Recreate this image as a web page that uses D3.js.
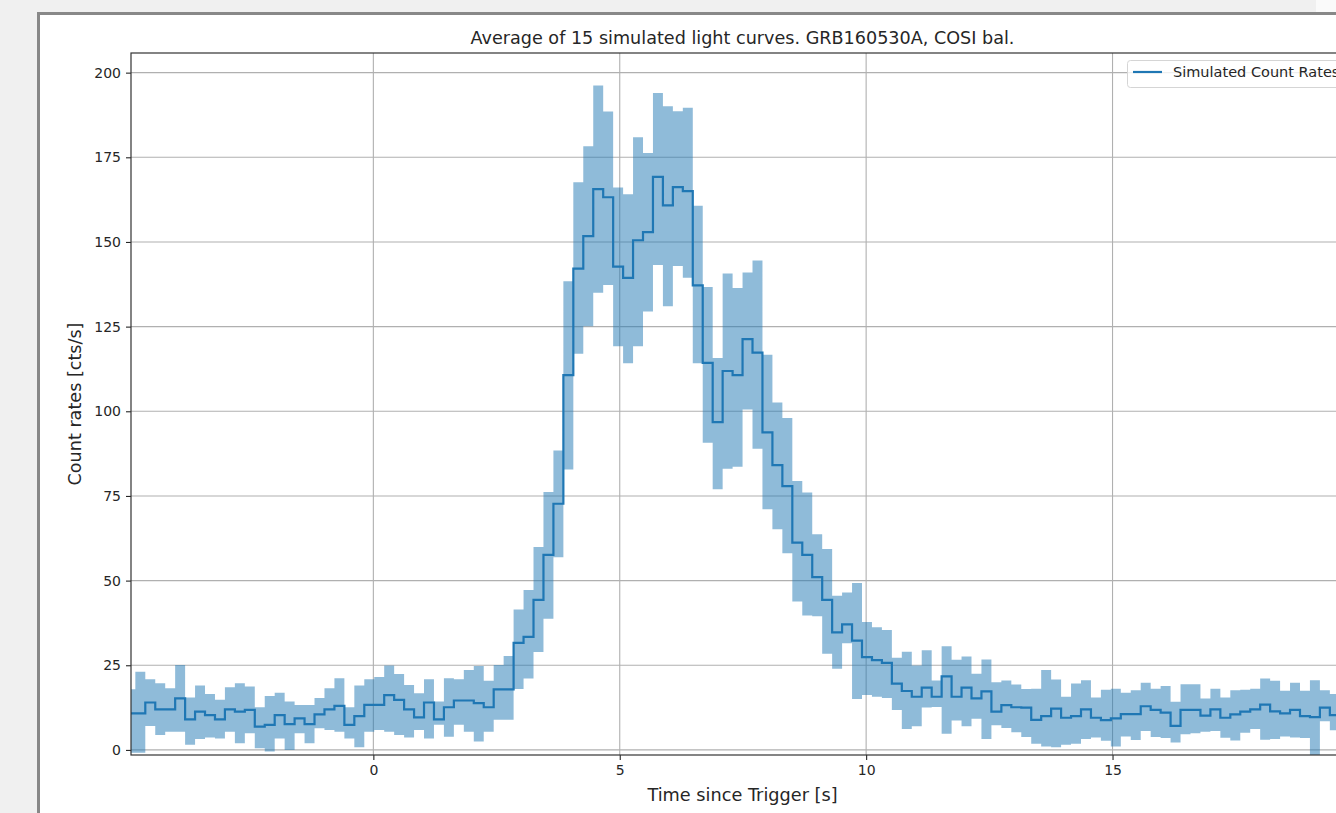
<!DOCTYPE html>
<html>
<head>
<meta charset="utf-8">
<script src="https://cdn.jsdelivr.net/npm/d3@7"></script>
<style>
  html, body { margin: 0; padding: 0; background: #f0f0f0; overflow: hidden; }
  svg { display: block; }
  text { font-family: "DejaVu Sans", sans-serif; fill: #262626; }
</style>
</head>
<body>
<div id="chart"></div>
<script>
// light curve bins (start time of first bin, bin width in s)
const binStart = -5.032;
const binWidth = 0.202;

// average count rate per bin [cts/s]
const meanRate = [
  10.8, 10.8, 14.0, 12.0, 12.0, 15.2, 9.0, 11.3, 10.3, 9.0,
  12.0, 11.3, 11.8, 6.9, 7.4, 10.3, 7.6, 9.3, 7.6, 10.5,
  12.0, 13.0, 7.4, 10.0, 13.3, 13.3, 16.2, 14.8, 12.0, 9.6,
  14.0, 9.0, 12.6, 14.6, 14.6, 13.8, 12.6, 17.9, 17.9, 31.6,
  33.4, 44.3, 57.6, 72.7, 110.7, 142.1, 151.7, 165.6, 163.2, 142.7,
  139.4, 150.5, 152.9, 169.2, 160.8, 166.2, 165.0, 137.2, 114.3, 96.8,
  111.9, 110.7, 121.3, 117.3, 93.8, 84.1, 77.9, 61.2, 57.6, 51.0,
  44.3, 34.7, 37.1, 32.3, 27.4, 26.5, 25.7, 19.6, 17.4, 15.7,
  18.4, 15.7, 21.7, 15.7, 18.4, 15.2, 17.3, 11.3, 13.2, 12.6,
  12.5, 8.9, 10.0, 12.2, 9.5, 10.0, 12.0, 9.5, 8.8, 9.3,
  10.6, 10.6, 12.9, 11.8, 11.0, 7.1, 11.8, 11.8, 10.1, 12.0,
  9.5, 10.5, 11.3, 12.0, 13.4, 11.4, 10.8, 11.8, 10.0, 9.7,
  12.5, 10.3
];

// upper edge of the spread band
const upperRate = [
  17.9, 23.1, 20.9, 19.7, 18.2, 25.1, 15.5, 19.0, 16.5, 14.8,
  18.5, 19.7, 18.7, 12.6, 15.9, 16.9, 14.3, 13.3, 13.3, 15.3,
  18.2, 21.2, 12.6, 19.0, 20.9, 21.5, 24.9, 22.4, 19.2, 16.7,
  20.9, 14.3, 21.2, 20.9, 23.6, 24.8, 20.4, 25.1, 27.7, 41.5,
  47.2, 59.9, 76.2, 88.4, 138.4, 167.6, 178.3, 196.2, 188.5, 166.1,
  164.1, 180.9, 176.3, 194.0, 190.1, 188.6, 189.6, 160.7, 136.7, 115.7,
  140.7, 136.4, 141.0, 144.5, 116.7, 102.6, 98.0, 79.4, 76.0, 63.7,
  59.3, 45.5, 46.5, 49.3, 37.8, 36.2, 35.4, 27.2, 29.0, 24.9,
  29.4, 20.5, 30.6, 26.6, 27.6, 22.5, 26.7, 20.0, 20.5, 19.3,
  18.0, 18.1, 23.6, 20.8, 15.7, 19.6, 20.6, 15.5, 17.8, 18.1,
  16.9, 17.6, 19.8, 18.1, 18.9, 14.2, 19.4, 19.4, 15.2, 18.1,
  15.5, 17.6, 17.8, 18.1, 21.1, 20.4, 17.5, 19.8, 17.5, 20.6,
  17.6, 16.5
];

// lower edge of the spread band
const lowerRate = [
  -0.8, -0.8, 7.1, 4.4, 5.4, 5.4, 1.5, 3.2, 3.7, 3.4,
  5.4, 2.0, 4.9, 0.5, -0.5, 3.4, 0.0, 4.9, 2.0, 6.4,
  5.9, 5.4, 3.4, 0.8, 5.4, 5.9, 5.4, 4.4, 3.7, 5.9,
  3.4, 7.4, 3.9, 7.4, 5.4, 2.5, 5.4, 8.9, 8.9, 18.0,
  21.1, 28.9, 38.7, 56.9, 82.8, 117.0, 125.1, 135.0, 137.3, 119.2,
  114.2, 119.2, 129.5, 143.2, 131.0, 142.9, 139.4, 114.2, 90.7, 77.0,
  83.0, 83.6, 100.5, 88.9, 71.1, 65.2, 58.1, 43.8, 39.7, 39.5,
  28.4, 24.0, 31.5, 15.0, 16.2, 15.7, 15.3, 11.8, 6.2, 7.0,
  12.5, 12.7, 4.8, 8.7, 7.0, 9.2, 3.2, 7.3, 6.5, 5.2,
  3.8, 1.8, 1.0, 0.8, 1.5, 1.8, 3.2, 3.7, 2.7, 1.0,
  4.0, 2.9, 5.6, 3.8, 3.5, 2.2, 4.6, 4.9, 5.4, 5.6,
  3.6, 2.8, 5.1, 6.2, 3.0, 3.2, 4.0, 3.7, 3.5, -1.7,
  8.5, 5.8
];

const xTicks = [0, 5, 10, 15];
const yTicks = [0, 25, 50, 75, 100, 125, 150, 175, 200];

const W = 1336, H = 813;
const plot = { left: 131, right: 1354, top: 53, bottom: 755 };

const svg = d3.select("#chart").append("svg")
  .attr("width", W).attr("height", H);

// picture frame
svg.append("rect").attr("x", 0).attr("y", 0).attr("width", W).attr("height", H).attr("fill", "#f0f0f0");
svg.append("rect").attr("x", 1316).attr("y", 0).attr("width", 20).attr("height", 12).attr("fill", "#fafafa");
svg.append("rect").attr("x", 38.5).attr("y", 13.5).attr("width", W).attr("height", H)
  .attr("fill", "#ffffff").attr("stroke", "#888888").attr("stroke-width", 3);

const x = d3.scaleLinear().domain([-4.918, 19.9]).range([plot.left, plot.right]);
const y = d3.scaleLinear().domain([-1.5, 205.8]).range([plot.bottom, plot.top]);

svg.append("defs").append("clipPath").attr("id", "plotclip")
  .append("rect").attr("x", plot.left).attr("y", plot.top)
  .attr("width", plot.right - plot.left).attr("height", plot.bottom - plot.top);

// grid
const grid = svg.append("g").attr("stroke", "#b0b0b0").attr("stroke-width", 1.1);
grid.selectAll(".gx").data(xTicks).join("line")
  .attr("x1", d => x(d)).attr("x2", d => x(d))
  .attr("y1", plot.top).attr("y2", plot.bottom);
grid.selectAll(".gy").data(yTicks).join("line")
  .attr("x1", plot.left).attr("x2", plot.right)
  .attr("y1", d => y(d)).attr("y2", d => y(d));

// step data: one point per bin start plus closing edge
const bins = meanRate.map((m, i) => ({
  t: binStart + i * binWidth, m: m, hi: upperRate[i], lo: lowerRate[i]
}));
const last = bins[bins.length - 1];
bins.push({ t: last.t + binWidth, m: last.m, hi: last.hi, lo: last.lo });

const g = svg.append("g").attr("clip-path", "url(#plotclip)");

g.append("path").datum(bins)
  .attr("fill", "#1f77b4").attr("fill-opacity", 0.5)
  .attr("d", d3.area().curve(d3.curveStepAfter)
    .x(d => x(d.t)).y0(d => y(d.lo)).y1(d => y(d.hi)));

g.append("path").datum(bins)
  .attr("fill", "none").attr("stroke", "#1f77b4").attr("stroke-width", 2.2)
  .attr("d", d3.line().curve(d3.curveStepAfter).x(d => x(d.t)).y(d => y(d.m)));

// axes
const xAxis = svg.append("g").attr("transform", `translate(0,${plot.bottom})`)
  .call(d3.axisBottom(x).tickValues(xTicks).tickSize(5).tickPadding(5).tickFormat(d3.format("d")));
const yAxis = svg.append("g").attr("transform", `translate(${plot.left},0)`)
  .call(d3.axisLeft(y).tickValues(yTicks).tickSize(5).tickPadding(5).tickFormat(d3.format("d")));
[xAxis, yAxis].forEach(a => {
  a.select(".domain").remove();
  a.selectAll(".tick line").attr("stroke", "#262626").attr("stroke-width", 1.1);
  a.selectAll(".tick text").attr("fill", "#262626").style("font-size", "14px")
    .style("font-family", "DejaVu Sans, sans-serif");
});

// spines
svg.append("rect").attr("x", plot.left).attr("y", plot.top)
  .attr("width", plot.right - plot.left).attr("height", plot.bottom - plot.top)
  .attr("fill", "none").attr("stroke", "#333333").attr("stroke-width", 1.2);

// titles
svg.append("text").attr("x", (plot.left + plot.right) / 2).attr("y", 44)
  .attr("text-anchor", "middle").style("font-size", "17.6px")
  .text("Average of 15 simulated light curves. GRB160530A, COSI bal.");
svg.append("text").attr("x", (plot.left + plot.right) / 2).attr("y", 801)
  .attr("text-anchor", "middle").style("font-size", "17.7px")
  .text("Time since Trigger [s]");
svg.append("text").attr("transform", `translate(81,${(plot.top + plot.bottom) / 2}) rotate(-90)`)
  .attr("text-anchor", "middle").style("font-size", "17.6px")
  .text("Count rates [cts/s]");

// legend (the figure is cropped on the right, as in the source picture)
const leg = svg.append("g");
leg.append("rect").attr("x", 1127.5).attr("y", 60.5).attr("width", 220).attr("height", 27).attr("rx", 3)
  .attr("fill", "#ffffff").attr("fill-opacity", 0.8).attr("stroke", "#d5d5d5");
leg.append("line").attr("x1", 1133).attr("x2", 1162).attr("y1", 72).attr("y2", 72)
  .attr("stroke", "#1f77b4").attr("stroke-width", 2.2);
leg.append("text").attr("x", 1173).attr("y", 77).style("font-size", "14.5px")
  .text("Simulated Count Rates");
</script>
</body>
</html>
